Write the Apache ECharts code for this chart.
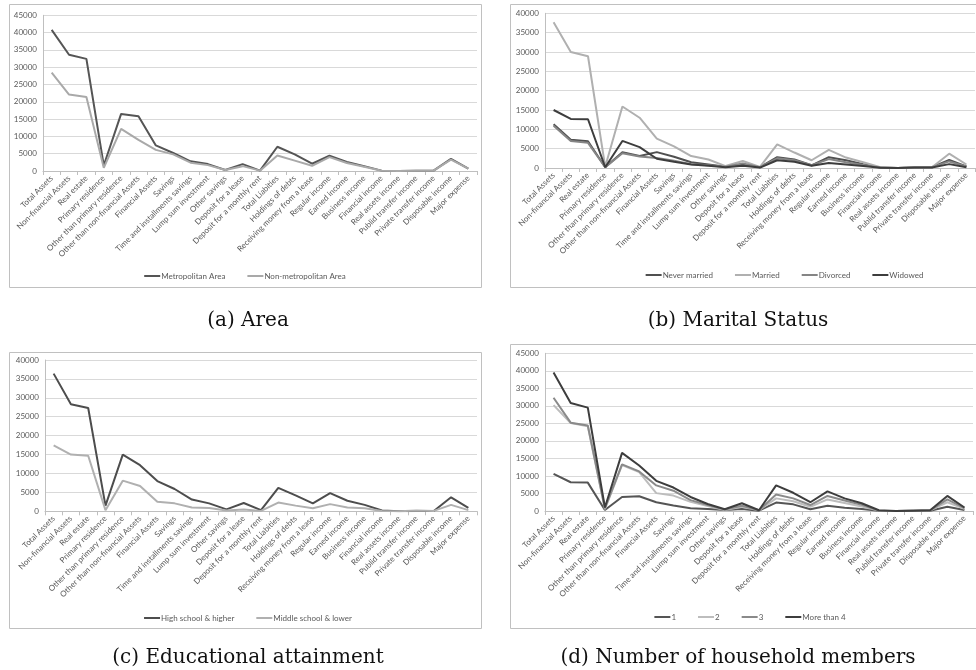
<!DOCTYPE html>
<html>
<head>
<meta charset="utf-8">
<script src="https://cdn.jsdelivr.net/npm/echarts@6/dist/echarts.min.js"></script>
<style>
  html, body { margin: 0; padding: 0; background: #fff; }
  #chart { width: 976px; height: 670px; }
</style>
</head>
<body>
<div id="chart"></div>
<script>
// Household asset / income items shared by all four panels
const categories = [
  'Total Assets', 'Non-financial Assets', 'Real estate', 'Primary residence',
  'Other than primary residence', 'Other than non-financial Assets', 'Financial Assets',
  'Savings', 'Time and installments savings', 'Lump sum investment', 'Other savings',
  'Deposit for a lease', 'Deposit for a monthly rent', 'Total Liabities', 'Holdings of debts',
  'Receiving money from a lease', 'Regular income', 'Earned income', 'Business income',
  'Financial income', 'Real assets income', 'Publid transfer income', 'Private transfer income',
  'Disposable income', 'Major expense'
];

// (a) Area
const metropolitan    = [40800,33600,32400,1600,16500,15800,7400,5200,2800,2000,300,2000,100,7000,4800,2100,4400,2600,1400,100,0,50,100,3500,700];
const nonMetropolitan = [28400,22100,21400,900,12200,9000,6100,4800,2400,1700,300,1400,100,4500,3000,1500,4000,2300,1200,100,0,50,100,3300,700];

// (b) Marital status
const neverMarried = [11300,7300,6900,200,4100,3100,4100,2900,1500,900,300,900,200,2800,2200,700,2800,2000,1000,100,0,100,200,2100,400];
const married      = [37700,30000,28900,300,15900,13000,7600,5600,3100,2200,500,1800,300,6100,4000,2000,4700,2700,1500,200,0,100,200,3700,900];
const divorced     = [10900,7000,6500,200,3800,3000,2600,1900,1000,700,300,1200,200,2500,2000,700,2300,1500,800,100,0,100,200,1700,400];
const widowed      = [15000,12700,12600,200,7000,5400,2400,1600,900,600,200,600,100,2000,1600,600,1300,900,500,50,0,100,150,1000,200];

// (c) Educational attainment
const highSchool   = [36400,28300,27300,1500,15000,12200,8000,5900,3100,2100,500,2200,300,6200,4200,2100,4800,2800,1700,200,0,50,100,3700,900];
const middleSchool = [17400,15000,14700,300,8100,6700,2500,2100,1000,900,200,500,100,2300,1500,800,1900,1000,800,100,0,200,100,1700,300];

// (d) Number of household members
const members1    = [10600,8200,8100,300,4000,4200,2500,1600,800,600,300,600,100,2400,1900,500,1500,900,600,50,0,100,100,1200,300];
const members2    = [30200,25100,24200,500,13100,11100,5100,4400,2600,1400,300,1200,200,3600,2800,1200,3300,2300,1300,100,0,100,200,2500,600];
const members3    = [32300,25200,24400,800,13300,11300,7300,5800,3100,1700,400,1500,200,4700,3600,1700,4300,3000,1800,100,0,100,200,3300,800];
const membersMore = [39500,30800,29500,1000,16600,13000,8600,6700,4000,2000,500,2200,200,7300,5200,2500,5600,3600,2200,200,0,100,200,4300,1000];

// y-axis ranges per panel
const yMax = [45000, 40000, 40000, 45000];
const yStep = 5000;

const labelFont = 'Lato, "Open Sans", sans-serif';
const textGray = '#595959';

const panels = [
  { grid: { left: 43,  top: 15.3, width: 434, height: 155.7 }, box: [9, 4, 472, 283],
    legendTop: 267, legendCenter: 245, caption: '(a) Area', captionX: 243, captionY: 306,
    series: [['Metropolitan Area', metropolitan, '#555555'], ['Non-metropolitan Area', nonMetropolitan, '#a9a9a9']] },
  { grid: { left: 545, top: 13.3, width: 430, height: 154.7 }, box: [510, 4, 470, 283],
    legendTop: 266, legendCenter: 748, caption: '(b) Marital Status', captionX: 733, captionY: 306,
    series: [['Never married', neverMarried, '#505050'], ['Married', married, '#b0b0b0'],
             ['Divorced', divorced, '#858585'], ['Widowed', widowed, '#3d3d3d']] },
  { grid: { left: 45,  top: 360, width: 432, height: 151.3 }, box: [9, 352, 472, 276],
    legendTop: 609, legendCenter: 248, caption: '(c) Educational attainment', captionX: 243, captionY: 643,
    series: [['High school & higher', highSchool, '#4d4d4d'], ['Middle school & lower', middleSchool, '#b0b0b0']] },
  { grid: { left: 545, top: 353.3, width: 428, height: 157.7 }, box: [510, 344, 470, 284],
    legendTop: 608, legendCenter: 750, caption: '(d) Number of household members', captionX: 733, captionY: 643,
    series: [['1', members1, '#555555'], ['2', members2, '#bdbdbd'], ['3', members3, '#8a8a8a'],
             ['More than 4', membersMore, '#3d3d3d']] }
];

const option = {
  backgroundColor: '#ffffff',
  animation: false,
  grid: [], xAxis: [], yAxis: [], series: [], legend: [], title: [],
  graphic: []
};

panels.forEach((p, i) => {
  option.grid.push(Object.assign({ containLabel: false }, p.grid));
  option.xAxis.push({
    type: 'category', gridIndex: i, data: categories, boundaryGap: true,
    axisLine: { show: true, lineStyle: { color: '#bfbfbf', width: 1 } },
    axisTick: { show: true, length: 4, lineStyle: { color: '#bfbfbf' } },
    axisLabel: { interval: 0, rotate: 45, fontSize: 8, color: textGray, fontFamily: labelFont, margin: 6 },
    splitLine: { show: false }
  });
  option.yAxis.push({
    type: 'value', gridIndex: i, min: 0, max: yMax[i], interval: yStep,
    axisLine: { show: true, lineStyle: { color: '#bfbfbf', width: 1 } },
    axisTick: { show: false },
    axisLabel: { fontSize: 8, color: textGray, fontFamily: labelFont, margin: 6, formatter: v => String(v) },
    splitLine: { show: true, lineStyle: { color: '#d9d9d9', width: 1 } }
  });
  p.series.forEach(([name, values, color]) => {
    option.series.push({
      type: 'line', name, xAxisIndex: i, yAxisIndex: i, data: values,
      symbol: 'none', lineStyle: { color, width: 2 }, itemStyle: { color },
      emphasis: { disabled: true }
    });
  });
  option.legend.push({
    data: p.series.map(s => ({ name: s[0], icon: 'rect' })),
    left: p.legendCenter, top: p.legendTop,
    itemWidth: 16, itemHeight: 2, itemGap: 22,
    textStyle: { fontSize: 8, color: textGray, fontFamily: labelFont, padding: [0, 0, 0, -4] },
    selectedMode: false
  });
  option.title.push({
    text: p.caption, left: p.captionX, top: p.captionY, textAlign: 'center',
    textStyle: { fontFamily: '"DejaVu Serif", serif', fontWeight: 'normal', fontSize: 20, color: '#111' }
  });
  option.graphic.push({
    type: 'rect', silent: true,
    shape: { x: p.box[0] + 0.5, y: p.box[1] + 0.5, width: p.box[2], height: p.box[3] },
    style: { fill: 'none', stroke: '#c0c0c0', lineWidth: 1 }
  });
});

const chart = echarts.init(document.getElementById('chart'), null, { renderer: 'canvas' });
chart.setOption(option);

// center each legend on its panel after measuring its width
option.legend.forEach((lg, i) => {
  const model = chart.getModel().getComponent('legend', i);
  const view = chart.getViewOfComponentModel(model);
  if (view && view.group) {
    const rect = view.group.getBoundingRect();
    lg.left = panels[i].legendCenter - rect.width / 2;
  }
});
chart.setOption({ legend: option.legend });
</script>
</body>
</html>
